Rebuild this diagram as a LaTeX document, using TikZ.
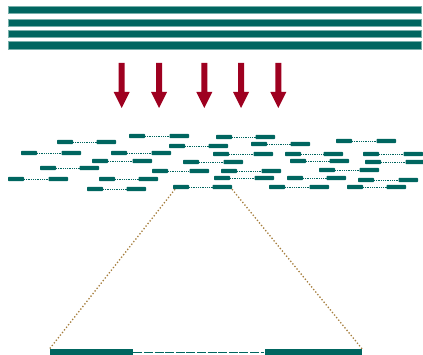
\documentclass[tikz,border=0pt]{standalone}
\usepackage{tikz}
\definecolor{teal1}{RGB}{0,102,96}
\definecolor{tealedge}{RGB}{120,175,170}
\definecolor{arrowred}{RGB}{158,0,32}
\definecolor{goldbrown}{RGB}{165,125,60}
\tikzset{
  strand/.style={fill=teal1, draw=tealedge, line width=0.4pt},
  fragbar/.style={fill=teal1, rounded corners=0.8pt},
  linker/.style={draw=teal1, densely dotted, line width=0.8pt},
  downarrow/.style={fill=arrowred},
  zoomline/.style={draw=goldbrown, dotted, line width=1.3pt},
}
\newcommand\frg[4]{%
  \fill[fragbar] (#1,#3-2.2) rectangle (#1+16,#3+2.2);
  \draw[linker] (#1+16,#3) -- (#2-19.5,#3);
  \fill[fragbar] (#2-19.5,#3-2.2) rectangle (#2,#3+2.2);
  \coordinate (#4L) at (#1+2,#3+2.2);
  \coordinate (#4R) at (#2,#3+2.2);
}
\newcommand\darrow[2]{%
  \fill[downarrow] (#1-3,63) -- (#1+3,63) -- (#1+3,92) -- (#1+8,92) -- (#1,108) -- (#1-8,92) -- (#1-3,92) -- cycle;
  \coordinate (#2) at (#1,108);
}
\begin{document}
\begin{tikzpicture}[x=1pt,y=-1pt]
\useasboundingbox (0,0) rectangle (423,355);
% chromosome strands
\foreach \ya/\yb in {6/13.3, 19/26, 30.7/37.7, 41.7/49.3}
  \draw[strand] (8,\ya) rectangle (420.7,\yb);
% arrows
\darrow{121.7}{a1}
\darrow{159}{a2}
\darrow{204.3}{a3}
\darrow{241}{a4}
\darrow{278.3}{a5}
% fragments
\frg{129}{189}{136}{f1}
\frg{216}{275}{137}{f2}
\frg{336}{396}{141}{f3}
\frg{57}{116}{142}{f4}
\frg{251}{310}{144}{f5}
\frg{169}{228}{146}{f6}
\frg{21}{81}{153}{f7}
\frg{111}{171}{153}{f8}
\frg{213}{273}{154}{f9}
\frg{285}{343}{154}{f10}
\frg{363}{423}{154}{f11}
\frg{92}{152}{161}{f12}
\frg{183}{243}{162}{f13}
\frg{290}{349}{161}{f14}
\frg{365}{425}{162}{f15}
\frg{40}{99}{168}{f16}
\frg{152}{209}{171}{f17}
\frg{221}{281}{171}{f18}
\frg{319}{379}{170}{f19}
\frg{8}{68}{179}{f20}
\frg{99}{158}{179}{f21}
\frg{214}{274}{178}{f22}
\frg{287}{346}{178}{f23}
\frg{358}{418}{180}{f24}
\frg{87}{146}{189}{f25}
\frg{173}{232}{187}{f26}
\frg{269}{329}{187}{f27}
\frg{347}{406}{187}{f28}
% enlarged fragment at bottom
\node[fill=teal1, inner sep=0pt, minimum width=83.5pt, minimum height=7pt, anchor=north west] (bl) at (49.5,349) {};
\node[fill=teal1, inner sep=0pt, minimum width=97.5pt, minimum height=7pt, anchor=north west] (br) at (264.3,349) {};
\draw[teal1, line width=1.6pt, dash pattern=on 9pt off 1.6pt] (bl.east |- 0,352.3) -- (br.west |- 0,352.3);
% zoom lines
\draw[zoomline] (f26L) -- (bl.north west);
\draw[zoomline] (f26R) -- (br.north east);
\end{tikzpicture}
\end{document}
